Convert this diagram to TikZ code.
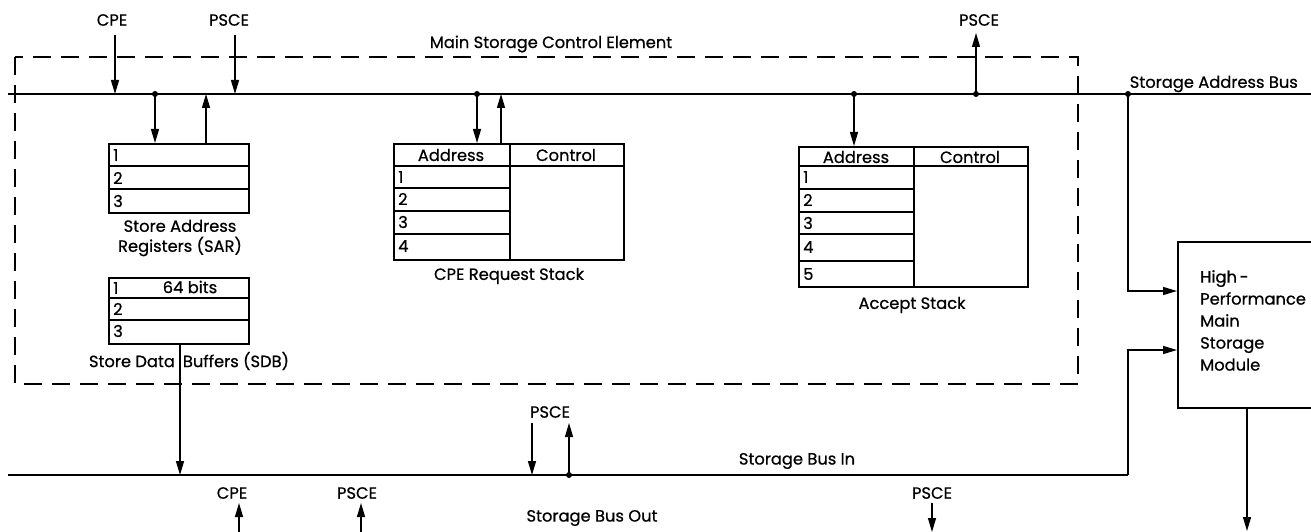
\documentclass[tikz,border=0pt]{standalone}
\usepackage{fontspec}
\setmainfont{Poppins}[FakeBold=0.7]
\usetikzlibrary{arrows.meta}
\tikzset{
  ln/.style={line width=1.3pt},
  arr/.style={ln,-{Triangle[length=14pt,width=8pt]}},
  boxed/.style={draw,line width=1.9pt,inner sep=0pt},
  cell/.style={line width=1.4pt},
  lbl/.style={font=\fontsize{16.3}{18}\selectfont,inner sep=0pt},
  dotc/.style={circle,fill,inner sep=0pt,minimum size=6pt},
  dashbox/.style={line width=1.2pt,dash pattern=on 18pt off 10pt},
}
\begin{document}
\begin{tikzpicture}[x=1pt,y=-1pt]
\useasboundingbox (0,0) rectangle (1311,532);

% ---------- dashed MSCE box ----------
\draw[dashbox] (15,57) rectangle (1078,384);
\node[lbl] (msce) at (551,44) {Main Storage Control Element};

% ---------- bus coordinates ----------
\coordinate (sabL) at (8,94);
\coordinate (sabR) at (1311,94);
\coordinate (sbiL) at (8,475);
\coordinate (sbiC) at (1128,475);
\draw[ln] (sabL) -- (sabR);
\node[lbl,anchor=east] (sablbl) at (1298,84) {Storage Address Bus};

% ---------- SAR ----------
\node[boxed,anchor=north west,minimum width=140pt,minimum height=69pt] (sar) at (108,143) {};
\draw[cell] (108,166) -- (248,166) (108,189) -- (248,189);
\node[lbl,anchor=west] (sar1) at (113,155) {1};
\node[lbl,anchor=west] (sar2) at (113,178) {2};
\node[lbl,anchor=west] (sar3) at (113,201) {3};
\node[lbl,align=center,font=\fontsize{16.3}{20}\selectfont] (sarlbl) at (180,238) {Store Address\\Registers (SAR)};

% ---------- SDB ----------
\node[boxed,anchor=north west,minimum width=140pt,minimum height=66pt] (sdb) at (108,277) {};
\draw[cell] (108,298) -- (248,298) (108,320) -- (248,320);
\node[lbl,anchor=west] (sdb1) at (113,288) {1};
\node[lbl] (sdb64) at (190,287) {64 bits};
\node[lbl,anchor=west] (sdb2) at (113,309) {2};
\node[lbl,anchor=west] (sdb3) at (113,331) {3};
\node[lbl,fill=white,inner xsep=3pt] (sdblbl) at (189,361) {Store Data\hspace{8pt}Buffers (SDB)};

% ---------- CPE Request Stack ----------
\node[boxed,anchor=north west,minimum width=230pt,minimum height=116pt] (crs) at (393,143) {};
\draw[cell] (393,166) -- (623,166) (510,143) -- (510,259)
  (393,188) -- (510,188) (393,211) -- (510,211) (393,234) -- (510,234);
\node[lbl] (crsa) at (451,155) {Address};
\node[lbl] (crsc) at (566,155) {Control};
\node[lbl,anchor=west] (crs1) at (398,177) {1};
\node[lbl,anchor=west] (crs2) at (398,199) {2};
\node[lbl,anchor=west] (crs3) at (398,222) {3};
\node[lbl,anchor=west] (crs4) at (398,246) {4};
\node[lbl] (crslbl) at (509,276) {CPE Request Stack};

% ---------- Accept Stack ----------
\node[boxed,anchor=north west,minimum width=229pt,minimum height=140pt] (acc) at (798,146) {};
\draw[cell] (798,166) -- (1027,166) (914,146) -- (914,286)
  (798,189) -- (914,189) (798,212) -- (914,212) (798,234) -- (914,234) (798,261) -- (914,261);
\node[lbl] (acca) at (856,157) {Address};
\node[lbl] (accc) at (970,157) {Control};
\node[lbl,anchor=west] (acc1) at (803,177) {1};
\node[lbl,anchor=west] (acc2) at (803,200) {2};
\node[lbl,anchor=west] (acc3) at (803,223) {3};
\node[lbl,anchor=west] (acc4) at (803,247) {4};
\node[lbl,anchor=west] (acc5) at (803,274) {5};
\node[lbl] (acclbl) at (912,305) {Accept Stack};

% ---------- High-Performance Main Storage Module ----------
\node[boxed,anchor=north west,minimum width=170pt,minimum height=166pt] (hpm) at (1177,241) {};
\node[lbl,anchor=north west,align=left,font=\fontsize{16.3}{22}\selectfont] (hpmtxt) at (1200,270)
  {High\,-\\Performance\\Main\\Storage\\Module};

% ---------- top inputs ----------
\node[lbl] (cpeT) at (112,20) {CPE};
\node[lbl] (psceT) at (229,20) {PSCE};
\coordinate (cpeTa) at (115,35);
\coordinate (cpeTb) at (115,94);
\coordinate (psceTa) at (235,35);
\coordinate (psceTb) at (235,94);
\draw[arr] (cpeTa) -- (cpeTb);
\draw[arr] (psceTa) -- (psceTb);

% SAR connections
\node[dotc] (d1) at (155,94) {};
\draw[arr] (d1.center) -- (155,143);
\coordinate (sarUp) at (206,143);
\draw[arr] (sarUp) -- (206,94);

% CPE request stack connections
\node[dotc] (d2) at (477,94) {};
\draw[arr] (d2.center) -- (477,143);
\coordinate (crsUp) at (501,143);
\draw[arr] (crsUp) -- (501,94);

% Accept stack connection
\node[dotc] (d3) at (854,94) {};
\draw[arr] (d3.center) -- (854,146);

% PSCE out (top right)
\node[dotc] (d4) at (976,94) {};
\coordinate (psceOut) at (976,33);
\draw[arr] (d4.center) -- (psceOut);
\node[lbl] (psceR) at (979,20) {PSCE};

% Storage address bus to HPM
\node[dotc] (d5) at (1128,94) {};
\draw[arr] (d5.center) -- (1128,291) -- (hpm.west |- 0,291);

% ---------- Storage Bus In ----------
\draw[ln] (sbiL) -- (sbiC);
\draw[arr] (sbiC) -- (1128,350) -- (hpm.west |- 0,350);
\node[lbl] (sbilbl) at (797,461) {Storage Bus In};

% SDB to storage bus in
\draw[arr] (sdb.south -| 180,0) -- (180,475);

% PSCE middle
\node[lbl] (psceM) at (550,412) {PSCE};
\coordinate (psceMa) at (532,423);
\draw[arr] (psceMa) -- (532,475);
\node[dotc] (d6) at (569,475) {};
\draw[arr] (d6.center) -- (569,423);

% ---------- Storage Bus Out ----------
\node[lbl] (sbolbl) at (592,518) {Storage Bus Out};
\node[lbl] (cpeB) at (232,493) {CPE};
\node[lbl] (psceB) at (357,493) {PSCE};
\node[lbl] (psceB2) at (932,493) {PSCE};
\coordinate (cpeBa) at (239,534);
\coordinate (psceBa) at (361,534);
\draw[arr] (cpeBa) -- (239,503);
\draw[arr] (psceBa) -- (361,503);
\coordinate (psceB2a) at (932,503);
\draw[arr] (psceB2a) -- (932,532);

% HPM output
\coordinate (hpmOut) at (1247,531);
\draw[arr] (hpm.south -| 1247,0) -- (hpmOut);
\end{tikzpicture}
\end{document}
